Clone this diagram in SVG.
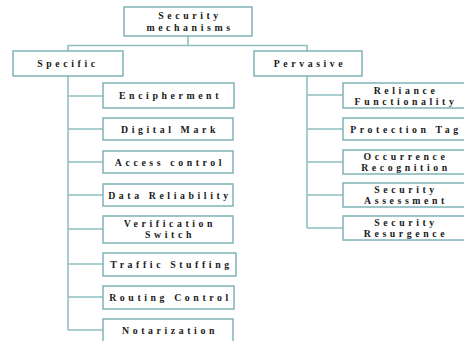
<svg xmlns="http://www.w3.org/2000/svg" width="464" height="341" viewBox="0 0 464 341">
<style>
.box{fill:#fff;stroke:#7fb3b6;stroke-width:1.5}
.t{font-family:"Liberation Serif","Times New Roman",serif;font-weight:bold;font-size:9.8px;letter-spacing:3.6px;fill:#1a1a1a;text-anchor:middle}
.c{fill:none;stroke:#8fc0c2;stroke-width:1.6}
</style>
<rect width="464" height="341" fill="#fff"/>
<g id="connectors">
<path class="c" d="M188 36V45.5M68 45.5H308M68 45V51M307 45V51"/>
<path class="c" d="M68 76V330M68 96H103M68 129H103M68 162H103M68 195H103M68 229H103M68 264H103M68 297H103M68 330H103"/>
<path class="c" d="M307 76V228M307 95H343M307 129H343M307 162H343M307 195H343M307 228H343"/>
</g>
<g id="root"><rect class="box" x="124" y="7" width="128" height="29"/><text class="t" x="190" y="19">Security</text><text class="t" x="190" y="30.5">mechanisms</text></g>
<g id="specific"><rect class="box" x="13" y="51" width="110" height="25"/><text class="t" x="68" y="67">Specific</text></g>
<g id="pervasive"><rect class="box" x="254" y="51" width="108" height="25"/><text class="t" x="310" y="67">Pervasive</text></g>
<g id="encipherment"><rect class="box" x="103" y="83" width="131" height="25"/><text class="t" x="170.5" y="99">Encipherment</text></g>
<g id="digital-mark"><rect class="box" x="103" y="118" width="130" height="22"/><text class="t" x="170" y="132.5">Digital Mark</text></g>
<g id="access-control"><rect class="box" x="103" y="151" width="130" height="22"/><text class="t" x="170" y="165.5">Access control</text></g>
<g id="data-reliability"><rect class="box" x="103" y="184" width="130" height="22"/><text class="t" x="170" y="198.5">Data Reliability</text></g>
<g id="verification-switch"><rect class="box" x="103" y="216" width="130" height="27"/><text class="t" x="170" y="227">Verification</text><text class="t" x="170" y="238">Switch</text></g>
<g id="traffic-stuffing"><rect class="box" x="103" y="253" width="133" height="23"/><text class="t" x="171.5" y="268">Traffic Stuffing</text></g>
<g id="routing-control"><rect class="box" x="103" y="286" width="131" height="23"/><text class="t" x="170.5" y="301">Routing Control</text></g>
<g id="notarization"><rect class="box" x="103" y="319" width="130" height="30"/><text class="t" x="170" y="334">Notarization</text></g>
<g id="reliance-functionality"><rect class="box" x="343" y="83" width="130" height="25"/><text class="t" x="406" y="93.5">Reliance</text><text class="t" x="406" y="104.5">Functionality</text></g>
<g id="protection-tag"><rect class="box" x="343" y="118" width="130" height="22"/><text class="t" x="406" y="132.5">Protection Tag</text></g>
<g id="occurrence-recognition"><rect class="box" x="343" y="150" width="130" height="24"/><text class="t" x="406" y="160">Occurrence</text><text class="t" x="406" y="171">Recognition</text></g>
<g id="security-assessment"><rect class="box" x="343" y="183" width="130" height="24"/><text class="t" x="406" y="193">Security</text><text class="t" x="406" y="204">Assessment</text></g>
<g id="security-resurgence"><rect class="box" x="343" y="216" width="130" height="24"/><text class="t" x="406" y="226">Security</text><text class="t" x="406" y="237">Resurgence</text></g>
</svg>
